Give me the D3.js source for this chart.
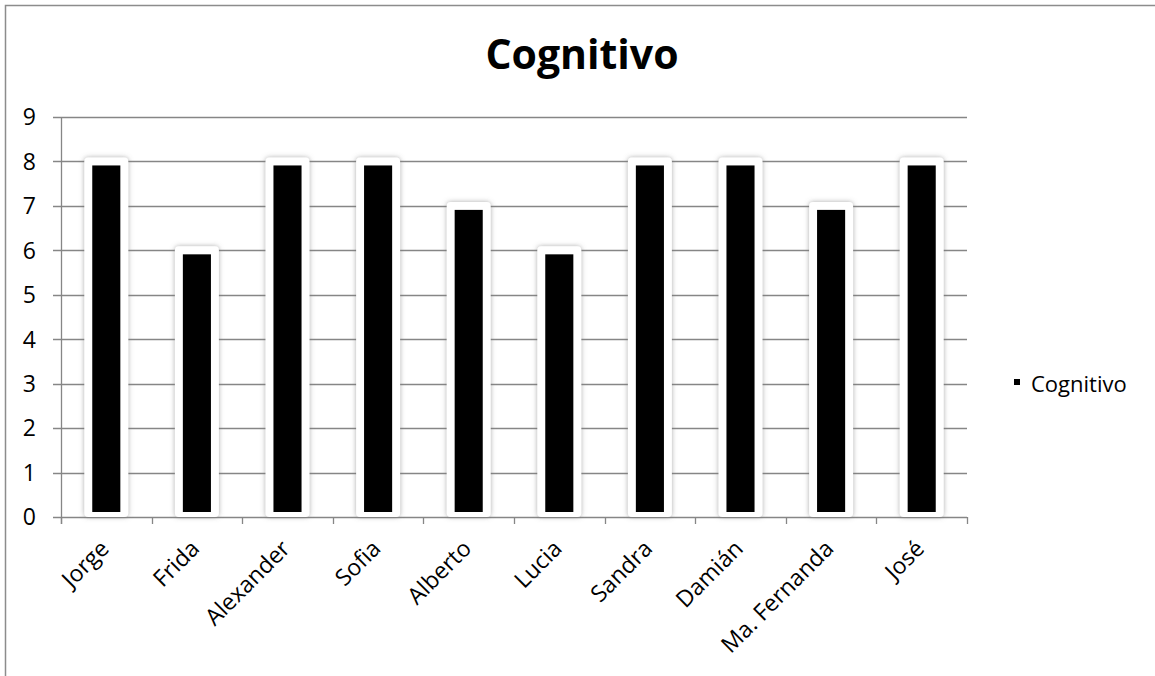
<!DOCTYPE html>
<html><head><meta charset="utf-8">
<script src="https://cdn.jsdelivr.net/npm/d3@7"></script>
<style>body{margin:0;background:#fff;} svg{display:block;}</style>
</head><body>
<svg id="c" width="1155" height="676"></svg>
<script>
const categories = ["Jorge","Frida","Alexander","Sofia","Alberto","Lucia","Sandra","Damián","Ma. Fernanda","José"];
const values = [8,6,8,8,7,6,8,8,7,8];
const yTicks = [0,1,2,3,4,5,6,7,8,9];
const seriesName = "Cognitivo";
const titleText = "Cognitivo";

(function(){
const svg = d3.select("#c");
const font = "'Open Sans', 'DejaVu Sans', sans-serif";
const pLeft = 61, pRight = 967, pTop = 117, pBottom = 517;

const defs = svg.append("defs");
const f = defs.append("filter").attr("id","glow").attr("x","-30%").attr("y","-10%").attr("width","160%").attr("height","120%");
f.append("feDropShadow").attr("dx",0).attr("dy",0).attr("stdDeviation",2.5).attr("flood-color","#707070").attr("flood-opacity",0.6);

// frame
svg.append("rect").attr("x",5.5).attr("y",5.5).attr("width",1200).attr("height",720)
  .attr("fill","#fff").attr("stroke","#8c8c8c").attr("stroke-width",1.5);

const x = d3.scaleBand().domain(categories).range([pLeft,pRight]);
const y = d3.scaleLinear().domain([0,9]).range([pBottom,pTop]);

// gridlines
svg.append("g").selectAll("line").data(yTicks).join("line")
  .attr("x1",pLeft-8).attr("x2",pRight)
  .attr("y1",d=>Math.round(y(d))+0.5).attr("y2",d=>Math.round(y(d))+0.5)
  .attr("stroke","#868686").attr("stroke-width",1.3);

// y axis line
svg.append("line").attr("x1",pLeft+0.5).attr("x2",pLeft+0.5).attr("y1",y(9)).attr("y2",pBottom+7)
  .attr("stroke","#868686").attr("stroke-width",1.3);

// x ticks
const xt = categories.map(c=>x(c)).concat([pRight]);
svg.append("g").selectAll("line").data(xt).join("line")
  .attr("x1",d=>Math.round(d)+0.5).attr("x2",d=>Math.round(d)+0.5)
  .attr("y1",pBottom).attr("y2",pBottom+7)
  .attr("stroke","#868686").attr("stroke-width",1.3);

// bars
const step = x.step();
const gw = step*0.485, bw = step*0.31;
const bars = svg.append("g");
bars.selectAll("rect.g").data(categories).join("rect").attr("class","g")
  .attr("x",(d)=>x(d)+step/2-gw/2).attr("width",gw)
  .attr("y",(d,i)=>y(values[i])-4).attr("height",(d,i)=>pBottom-y(values[i])+4)
  .attr("rx",4).attr("fill","#fff").attr("filter","url(#glow)");
bars.selectAll("rect.b").data(categories).join("rect").attr("class","b")
  .attr("x",(d)=>x(d)+step/2-bw/2).attr("width",bw)
  .attr("y",(d,i)=>y(values[i])+4).attr("height",(d,i)=>pBottom-y(values[i])-9)
  .attr("fill","#000");

// y labels
svg.append("g").selectAll("text").data(yTicks).join("text")
  .attr("x",36).attr("y",d=>y(d)).attr("dy","0.36em")
  .attr("text-anchor","end").attr("font-family",font).attr("font-size",23).attr("fill","#000")
  .text(d=>d);

// x labels
svg.append("g").selectAll("text").data(categories).join("text")
  .attr("transform",d=>`translate(${x(d)+step/2+4},${pBottom+33}) rotate(-45)`)
  .attr("text-anchor","end").attr("font-family",font).attr("font-size",23).attr("fill","#000")
  .text(d=>d);

// title
svg.append("text").attr("x",582).attr("y",69).attr("text-anchor","middle")
  .attr("font-family",font).attr("font-weight","bold").attr("font-size",41).attr("fill","#000")
  .text(titleText);

// legend
svg.append("rect").attr("x",1014).attr("y",379).attr("width",6).attr("height",6).attr("fill","#000");
svg.append("text").attr("x",1031).attr("y",392).attr("font-family",font).attr("font-size",22).attr("fill","#000").text(seriesName);
})();
</script>
</body></html>
